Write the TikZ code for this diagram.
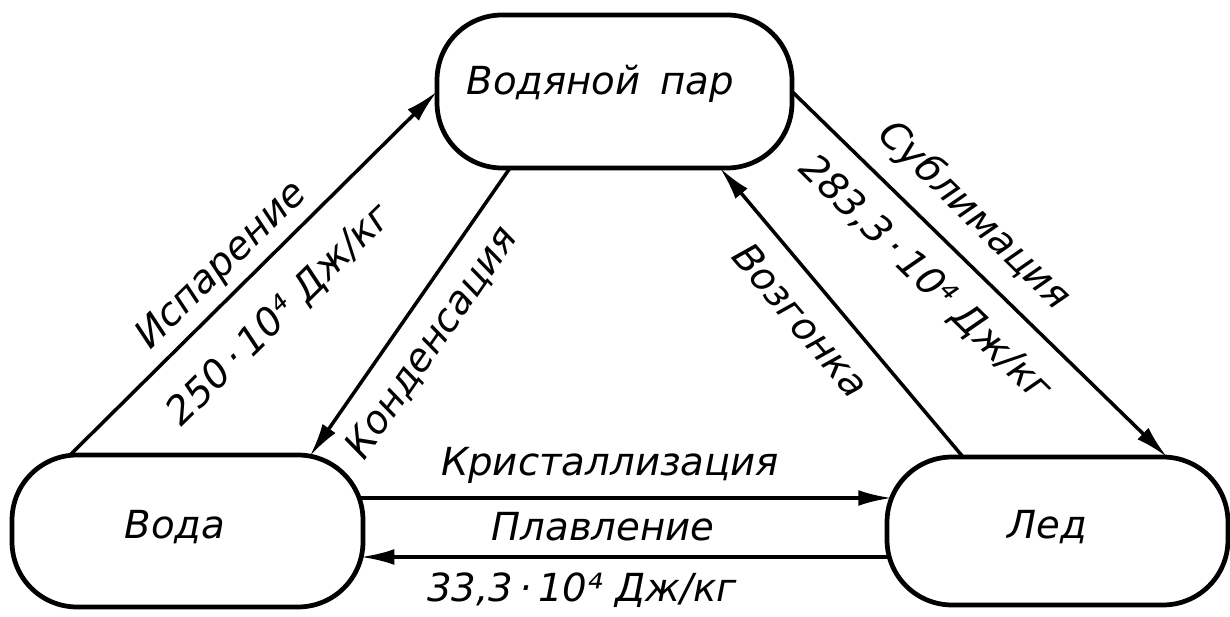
\documentclass[tikz,border=0pt]{standalone}
\usepackage{fontspec}
\setmainfont{DejaVu Sans}
\usetikzlibrary{arrows.meta,calc}
\begin{document}
\begin{tikzpicture}[x=0.02cm,y=-0.02cm,
  state/.style={draw, line width=2.7pt, rounded corners=1.3cm, inner sep=0pt, outer sep=0pt},
  conn/.style={line width=2pt, -{Latex[length=19pt,width=9pt]}},
  lbl/.style={font=\fontsize{22}{26}\selectfont\itshape, inner sep=0pt},
]
\useasboundingbox (0,0) rectangle (1230,617);
% states
\node[state, minimum width=7.1cm, minimum height=3.06cm] (top) at (614.5,91.5) {};
\node[state, minimum width=7.02cm, minimum height=3.04cm] (voda) at (187.5,531) {};
\node[state, minimum width=6.82cm, minimum height=2.96cm] (led) at (1057.5,531) {};
\node[lbl] (ttop) at (600,84) {Водяной\hspace{0.5em}пар};
\node[lbl] (tvoda) at (175,527) {Вода};
\node[lbl] (tled) at (1047,527) {Лед};
% connectors
\draw[conn] ($(voda.north west)+(58,0)$) -- (top.west);
\draw[conn] ($(top.south west)+(73,0)$) -- ($(voda.north east)+(-53,1)$);
\draw[conn] (top.east) -- ($(led.north east)+(-61,0)$);
\draw[conn] ($(led.north west)+(76,0)$) -- ($(top.south east)+(-72,0)$);
\draw[conn] ($(voda.east)+(-4,-33)$) -- ($(led.west)+(4.6,-33)$);
\draw[conn] ($(led.west)+(2,26)$) -- ($(voda.east)+(-2,26)$);
% labels
\node[lbl, rotate=44.5] (lisp) at (222,266) {Испарение};
\node[lbl, rotate=44.5] (lispq) at (280,315) {250\,·\,10⁴ Дж/кг};
\node[lbl, rotate=55.3] (lkond) at (432,343) {Конденсация};
\node[lbl, rotate=-44.4] (lsub) at (974,216) {Сублимация};
\node[lbl, rotate=-44.4] (lsubq) at (925,279) {283,3\,·\,10⁴ Дж/кг};
\node[lbl, rotate=-49.7] (lvozg) at (801,320) {Возгонка};
\node[lbl] (lkr) at (610,465) {Кристаллизация};
\node[lbl] (lpl) at (603,527) {Плавление};
\node[lbl] (lplq) at (582,590) {33,3\,·\,10⁴ Дж/кг};
\end{tikzpicture}
\end{document}
